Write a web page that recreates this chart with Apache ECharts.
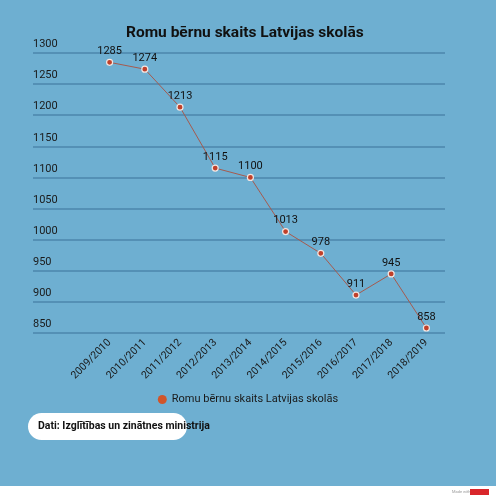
<!DOCTYPE html>
<html>
<head>
<meta charset="utf-8">
<script src="https://cdn.jsdelivr.net/npm/echarts@6/dist/echarts.min.js"></script>
<style>
html,body{margin:0;padding:0;background:#ffffff;}
#c{width:496px;height:500px;}
</style>
</head>
<body>
<div id="c"></div>
<script>
const categories = ['2009/2010','2010/2011','2011/2012','2012/2013','2013/2014','2014/2015','2015/2016','2016/2017','2017/2018','2018/2019'];
const values = [1285,1274,1213,1115,1100,1013,978,911,945,858];
const seriesName = 'Romu bērnu skaits Latvijas skolās';
const titleText = 'Romu bērnu skaits Latvijas skolās';
const sourceText = 'Dati: Izglītības un zinātnes ministrija';
const yMin = 850, yMax = 1300, yStep = 50;

const chart = echarts.init(document.getElementById('c'), null, {renderer:'canvas'});
const font = 'Roboto, "Noto Sans", sans-serif';
chart.setOption({
  backgroundColor: 'transparent',
  animation: false,
  graphic: [
    {type:'rect', z:-10, shape:{x:0,y:0,width:496,height:486}, style:{fill:'#6eafd1'}},
    {type:'rect', z:5, shape:{x:28,y:413,width:159,height:27,r:13.5}, style:{fill:'#ffffff'}},
    {type:'text', z:6, left:38, top:421, style:{text:sourceText, font:'bold 10.5px ' + font, fill:'#111111'}},
    {type:'text', z:6, left:452, top:490, style:{text:'Made with', font:'4px ' + font, fill:'#999999'}},
    {type:'rect', z:6, shape:{x:470,y:489,width:19,height:6}, style:{fill:'#d9262b'}}
  ],
  title: {
    text: titleText, left: 121, top: 20,
    textStyle: {fontFamily: font, fontWeight: 'bold', fontSize: 15.5, color: '#111111'}
  },
  legend: {
    top: 389, left: 'center',
    icon: 'circle', itemWidth: 9, itemHeight: 9, itemGap: 5,
    textStyle: {fontFamily: font, fontSize: 11, color: '#1a1a1a'},
    data: [{name: seriesName, itemStyle: {color: '#d0552a', borderWidth: 0}}]
  },
  grid: [
    {left: 33, right: 51, top: 53, height: 280},
    {left: 92, right: 52, top: 53, height: 280}
  ],
  xAxis: [
    {gridIndex: 0, type: 'value', min: 0, max: 1, show: false},
    {gridIndex: 1, type: 'category', data: categories, boundaryGap: true,
     axisLine: {show: false}, axisTick: {show: false},
     axisLabel: {rotate: 45, margin: 8, fontFamily: font, fontSize: 10.5, color: '#1a1a1a', interval: 0}}
  ],
  yAxis: [
    {gridIndex: 0, type: 'value', min: yMin, max: yMax, interval: yStep,
     axisLine: {show: false}, axisTick: {show: false},
     axisLabel: {inside: true, margin: 0, verticalAlign: 'bottom', padding: [0,0,3,0],
                 formatter: v => String(v),
                 fontFamily: font, fontSize: 11, color: '#1a1a1a'},
     splitLine: {show: true, lineStyle: {color: '#4c86ab', width: 1.5}}},
    {gridIndex: 1, type: 'value', min: yMin, max: yMax, interval: yStep, show: false}
  ],
  series: [{
    name: seriesName,
    type: 'line',
    xAxisIndex: 1, yAxisIndex: 1,
    data: values,
    symbol: 'circle', symbolSize: 6,
    lineStyle: {color: '#a65a4e', width: 1},
    itemStyle: {color: '#c0402a', borderColor: '#f2e6e2', borderWidth: 1.2},
    label: {show: true, position: 'top', distance: 2, fontFamily: font, fontSize: 11, color: '#111111'},
    z: 3
  }]
});
</script>
</body>
</html>
